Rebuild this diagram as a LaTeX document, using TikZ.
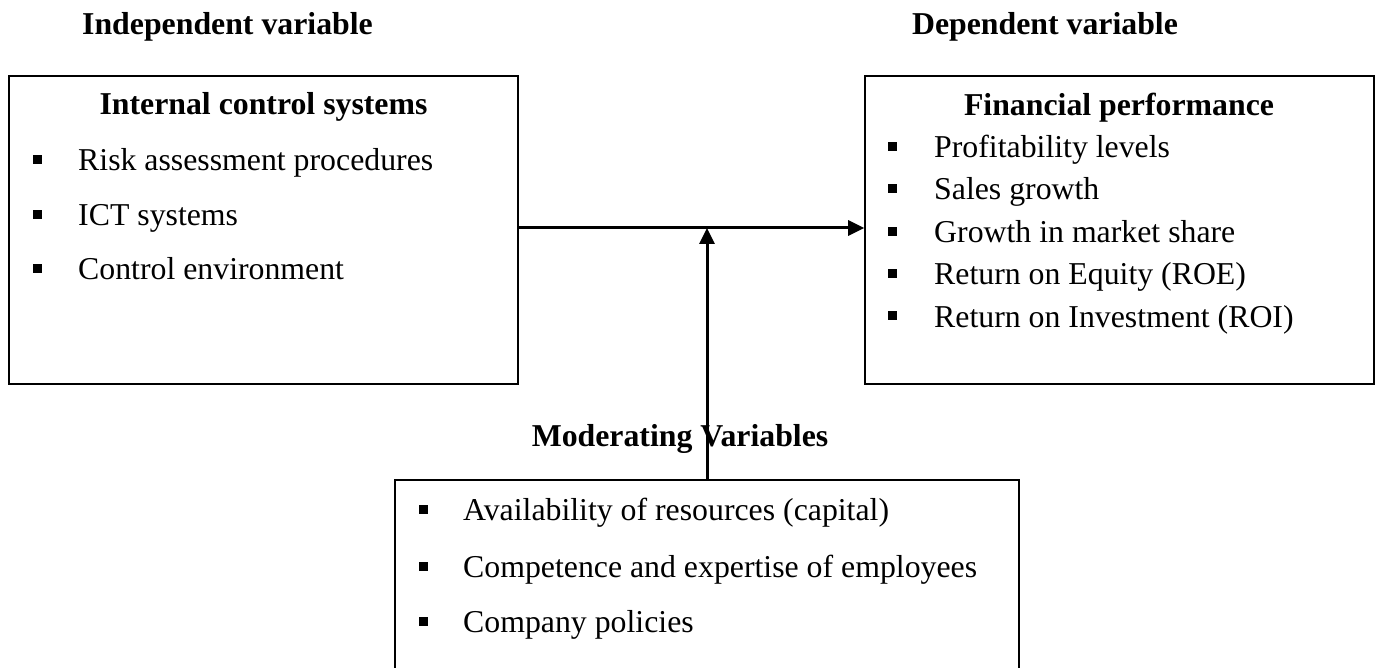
\documentclass[tikz,border=0pt]{standalone}
\usepackage{fontspec}
\setmainfont{Liberation Serif}
\usetikzlibrary{arrows.meta}

\tikzset{
  box/.style={draw=black, line width=1.6pt, inner sep=0pt},
  item/.style={font=\fontsize{31.8}{38}\selectfont, inner sep=0pt, anchor=base west},
  head/.style={font=\fontsize{31.8}{38}\selectfont\bfseries, inner sep=0pt, anchor=base},
  sq/.style={fill=black, inner sep=0pt, minimum size=9pt},
  link/.style={line width=3pt, -{Triangle[length=16pt,width=15pt]}}
}

\begin{document}
\begin{tikzpicture}[x=1pt,y=-1pt]
  \useasboundingbox (0,0) rectangle (1376,668);
  \clip (0,0) rectangle (1376,668);

  % column titles
  \node[head] (tind) at (227.5,35) {Independent variable};
  \node[head] (tdep) at (1045,35) {Dependent variable};

  % independent variable box
  \node[box, minimum width=509pt, minimum height=308pt] (ics) at (263.5,230) {};
  \node[head] (icsh) at (263.5,115) {Internal control systems};
  \node[sq] (b1) at (37,160) {};
  \node[item] (i1) at (78,171) {Risk assessment procedures};
  \node[sq] (b2) at (37,215) {};
  \node[item] (i2) at (78,226) {ICT systems};
  \node[sq] (b3) at (37,269) {};
  \node[item] (i3) at (78,280) {Control environment};

  % dependent variable box
  \node[box, minimum width=509pt, minimum height=308pt] (fin) at (1119.5,230) {};
  \node[head] (finh) at (1119,116) {Financial performance};
  \node[sq] (c1) at (892,147) {};
  \node[item] (f1) at (934,158) {Profitability levels};
  \node[sq] (c2) at (892,189) {};
  \node[item] (f2) at (934,200) {Sales growth};
  \node[sq] (c3) at (892,232) {};
  \node[item] (f3) at (934,243) {Growth in market share};
  \node[sq] (c4) at (892,274) {};
  \node[item] (f4) at (934,285) {Return on Equity (ROE)};
  \node[sq] (c5) at (892,316) {};
  \node[item] (f5) at (934,327) {Return on Investment (ROI)};

  % moderating variables
  \node[head] (modh) at (680,446) {Moderating Variables};
  \node[box, minimum width=624pt, minimum height=210pt] (mod) at (707,585) {};
  \node[sq] (d1) at (423,509) {};
  \node[item] (m1) at (463,520) {Availability of resources (capital)};
  \node[sq] (d2) at (423,566) {};
  \node[item] (m2) at (463,577) {Competence and expertise of employees};
  \node[sq] (d3) at (423,621) {};
  \node[item] (m3) at (463,632) {Company policies};

  % connectors
  \coordinate (meet) at ([yshift=2pt]ics.east);
  \draw[link] (meet) -- (meet -| fin.west);
  \draw[link] (mod.north) -- (mod.north |- meet);
\end{tikzpicture}
\end{document}
